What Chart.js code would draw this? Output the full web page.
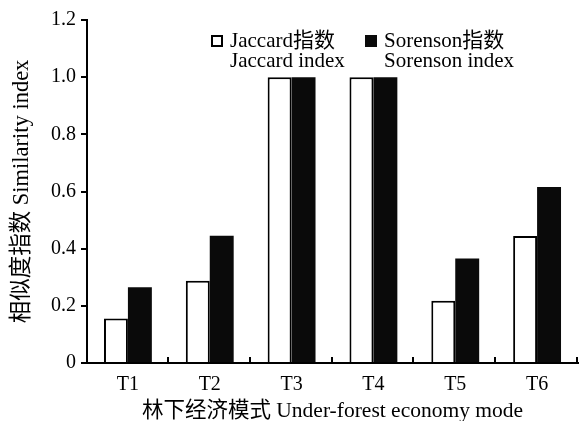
<!DOCTYPE html>
<html>
<head>
<meta charset="utf-8">
<title>Similarity index</title>
<script src="https://cdn.jsdelivr.net/npm/chart.js@4.4.0/dist/chart.umd.min.js"></script>
<style>
  html, body { margin: 0; padding: 0; background: #fff; }
  #wrap { width: 584px; height: 421px; }
</style>
</head>
<body>
<div id="wrap"><canvas id="chart" width="584" height="421"></canvas></div>
<script>
// data
const categories = ['T1', 'T2', 'T3', 'T4', 'T5', 'T6'];
const jaccard = [0.156, 0.288, 1.0, 1.0, 0.218, 0.444];
const sorenson = [0.265, 0.445, 1.0, 1.0, 0.366, 0.616];
const seriesNames = [['Jaccard指数', 'Jaccard index'], ['Sorenson指数', 'Sorenson index']];
const yTicks = [0, 0.2, 0.4, 0.6, 0.8, 1.0, 1.2];
const xTitle = '林下经济模式 Under-forest economy mode';
const yTitle = '相似度指数 Similarity index';

const FONT = '"Liberation Serif", "Times New Roman", "Noto Sans CJK SC", serif';

// small marks between categories, pointing up into the plot
const xTickMarks = {
  id: 'xTickMarks',
  afterDraw(chart) {
    const ctx = chart.ctx;
    const a = chart.chartArea;
    const xs = chart.scales.x;
    const half = (xs.right - xs.left) / categories.length / 2;
    ctx.save();
    ctx.strokeStyle = '#000';
    ctx.lineWidth = 2;
    categories.forEach((c, i) => {
      const x = Math.round(xs.getPixelForValue(i) + half) - 1;
      ctx.beginPath();
      ctx.moveTo(x, a.bottom);
      ctx.lineTo(x, a.bottom - 6);
      ctx.stroke();
    });
    ctx.restore();
  }
};

// two-line legend drawn inside the plot
const twoLineLegend = {
  id: 'twoLineLegend',
  afterDraw(chart, args, opts) {
    const ctx = chart.ctx;
    const a = chart.chartArea;
    ctx.save();
    ctx.font = opts.fontSize + 'px ' + FONT;
    ctx.textBaseline = 'middle';
    ctx.textAlign = 'left';
    chart.data.datasets.forEach((ds, i) => {
      const x = a.left + opts.left + i * opts.step;
      const y = a.top + opts.top;
      const b = opts.box;
      ctx.fillStyle = ds.backgroundColor;
      ctx.fillRect(x, y - b / 2, b, b);
      if (ds.borderWidth) {
        ctx.strokeStyle = '#000';
        ctx.lineWidth = 2;
        ctx.strokeRect(x + 1, y - b / 2 + 1, b - 2, b - 2);
      }
      ctx.fillStyle = '#000';
      seriesNames[i].forEach((line, k) => {
        ctx.fillText(line, x + b + 7, y + k * opts.lineGap);
      });
    });
    ctx.restore();
  }
};

new Chart(document.getElementById('chart'), {
  type: 'bar',
  data: {
    labels: categories,
    datasets: [
      {
        label: seriesNames[0].join(' '),
        data: jaccard,
        backgroundColor: '#ffffff',
        borderColor: '#000000',
        borderWidth: 2
      },
      {
        label: seriesNames[1].join(' '),
        data: sorenson,
        backgroundColor: '#0a0a0a',
        borderWidth: 0
      }
    ]
  },
  options: {
    responsive: false,
    animation: false,
    devicePixelRatio: 1,
    categoryPercentage: 0.585,
    barPercentage: 1.0,
    layout: { padding: { top: 20, right: 6, bottom: 0, left: 0 } },
    plugins: {
      legend: { display: false },
      tooltip: { enabled: false },
      twoLineLegend: { left: 124, step: 154, top: 21, box: 12, lineGap: 20, fontSize: 21 }
    },
    scales: {
      x: {
        offset: true,
        grid: { display: false },
        border: { display: true, color: '#000', width: 2 },
        ticks: { color: '#000', font: { family: FONT, size: 20 }, padding: 2 },
        title: {
          display: true, text: xTitle, color: '#000',
          font: { family: FONT, size: 21.5 }, padding: { top: 0, bottom: -3 }
        },
        afterFit(scale) { scale.height = 58; }
      },
      y: {
        min: 0,
        max: 1.2,
        afterBuildTicks(scale) { scale.ticks = yTicks.map(v => ({ value: v })); },
        grid: {
          drawOnChartArea: false, drawTicks: true, tickLength: 6,
          color: '#000', lineWidth: 2
        },
        border: { display: true, color: '#000', width: 2 },
        ticks: {
          color: '#000', font: { family: FONT, size: 20 }, padding: 5,
          callback: v => (v === 0 ? '0' : v.toFixed(1))
        },
        title: {
          display: true, text: yTitle, color: '#000',
          font: { family: FONT, size: 22.5 }, padding: { top: 9, bottom: 0 }
        },
        afterFit(scale) { scale.width = 87; }
      }
    }
  },
  plugins: [xTickMarks, twoLineLegend]
});
</script>
</body>
</html>
